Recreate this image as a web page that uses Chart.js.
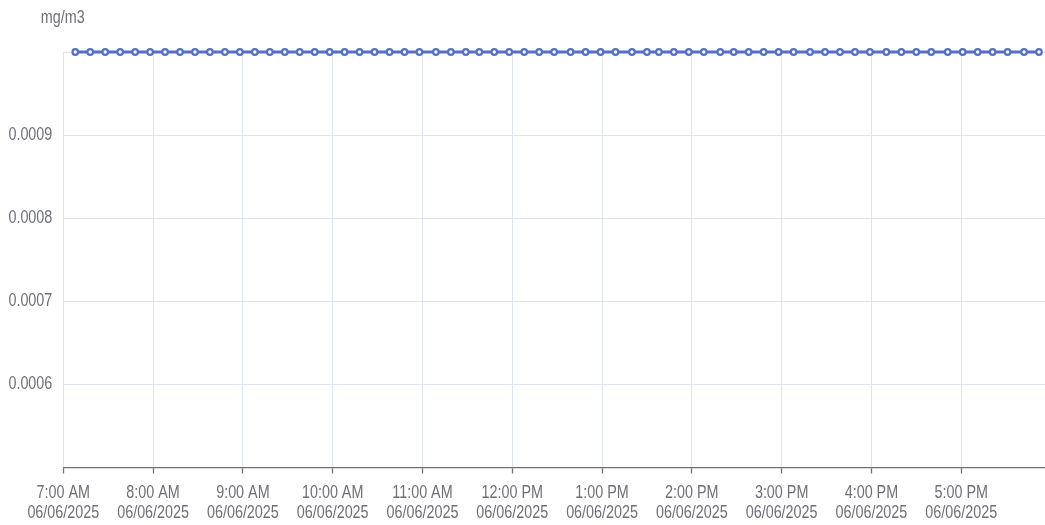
<!DOCTYPE html>
<html>
<head>
<meta charset="utf-8">
<script src="https://cdn.jsdelivr.net/npm/chart.js@4.4.1/dist/chart.umd.min.js"></script>
<style>
  html, body { margin: 0; padding: 0; background: #ffffff; overflow: hidden; }
  canvas { display: block; }
</style>
</head>
<body>
<canvas id="c" width="1045" height="525" style="width:1045px;height:525px"></canvas>
<script>
// ---- data ----
const unitLabel = 'mg/m3';
const dateLabel = '06/06/2025';
const times = [
  '07:08','07:18','07:28','07:38','07:48','07:58',
  '08:08','08:18','08:28','08:38','08:48','08:58',
  '09:08','09:18','09:28','09:38','09:48','09:58',
  '10:08','10:18','10:28','10:38','10:48','10:58',
  '11:09','11:19','11:29','11:38','11:48','11:58',
  '12:08','12:18','12:28','12:39','12:49','12:59',
  '13:09','13:20','13:30','13:38','13:48','13:58',
  '14:08','14:19','14:28','14:38','14:48','14:58',
  '15:08','15:19','15:29','15:39','15:49','15:59',
  '16:10','16:20','16:30','16:40','16:51',
  '17:01','17:11','17:21','17:31','17:42','17:52'
];
const values = [
  0.001,0.001,0.001,0.001,0.001,0.001,
  0.001,0.001,0.001,0.001,0.001,0.001,
  0.001,0.001,0.001,0.001,0.001,0.001,
  0.001,0.001,0.001,0.001,0.001,0.001,
  0.001,0.001,0.001,0.001,0.001,0.001,
  0.001,0.001,0.001,0.001,0.001,0.001,
  0.001,0.001,0.001,0.001,0.001,0.001,
  0.001,0.001,0.001,0.001,0.001,0.001,
  0.001,0.001,0.001,0.001,0.001,0.001,
  0.001,0.001,0.001,0.001,0.001,
  0.001,0.001,0.001,0.001,0.001,0.001
];
const xStart = '07:00';
const xEnd = '17:56';
const yMin = 0.0005;
const yMax = 0.001;
const yStep = 0.0001;

// ---- helpers ----
function toMin(s) { const p = s.split(':'); return (+p[0]) * 60 + (+p[1]); }
function fmtTime(m) {
  const h = Math.floor(m / 60), mm = Math.round(m % 60);
  const ap = h >= 12 ? 'PM' : 'AM';
  let h12 = h % 12; if (h12 === 0) h12 = 12;
  return h12 + ':' + (mm < 10 ? '0' : '') + mm + ' ' + ap;
}

const points = times.map((t, i) => ({ x: toMin(t), y: values[i] }));
const FONT = "'Liberation Sans', Arial, Helvetica, sans-serif";
const FSIZE = 17.5;
const SQUEEZE = 0.82;   // narrow (condensed) look of the reference type
const TXT = '#6e7079';

function narrowText(ctx, text, x, y, align) {
  ctx.save();
  ctx.translate(x, y);
  ctx.scale(SQUEEZE, 1);
  ctx.textAlign = align;
  ctx.textBaseline = 'middle';
  ctx.fillText(text, 0, 0);
  ctx.restore();
}

const labelPlugin = {
  id: 'narrowLabels',
  afterDraw(chart) {
    const ctx = chart.ctx;
    const xs = chart.scales.x, ys = chart.scales.y;
    ctx.save();
    ctx.font = FSIZE + 'px ' + FONT;
    ctx.fillStyle = TXT;
    narrowText(ctx, unitLabel, chart.chartArea.left - 0.6, 18, 'center');
    xs.ticks.forEach(t => {
      const px = xs.getPixelForValue(t.value);
      narrowText(ctx, fmtTime(t.value), px, xs.top + 25.5, 'center');
      narrowText(ctx, dateLabel, px, xs.top + 45.5, 'center');
    });
    ys.ticks.forEach(t => {
      if (Math.abs(t.value - yMin) < 1e-9 || Math.abs(t.value - yMax) < 1e-9) return;
      const py = ys.getPixelForValue(t.value);
      narrowText(ctx, t.value.toFixed(4), chart.chartArea.left - 11, py, 'right');
    });
    ctx.restore();
  }
};

new Chart(document.getElementById('c'), {
  type: 'line',
  data: {
    datasets: [{
      data: points,
      borderColor: '#5470c6',
      backgroundColor: '#ffffff',
      borderWidth: 2.8,
      pointRadius: 2.8,
      pointBorderWidth: 2.2,
      pointBackgroundColor: '#ffffff',
      pointBorderColor: '#5470c6',
      tension: 0,
      clip: false
    }]
  },
  options: {
    responsive: false,
    animation: false,
    devicePixelRatio: 1,
    layout: { autoPadding: false, padding: { top: 52, left: 0, right: 0, bottom: 0 } },
    plugins: { legend: { display: false }, tooltip: { enabled: false }, title: { display: false } },
    scales: {
      x: {
        type: 'linear',
        min: toMin(xStart),
        max: toMin(xEnd),
        afterFit(scale) { scale.height = 57.5; scale.paddingLeft = 0; scale.paddingRight = 0; },
        border: { display: true, color: '#6e7079', width: 1.3 },
        grid: { color: '#e0e6f1', lineWidth: 1, drawTicks: true, tickLength: 6, tickColor: '#6e7079', tickWidth: 1.3 },
        ticks: {
          display: false,
          stepSize: 60,
          includeBounds: false,
          autoSkip: false,
          maxRotation: 0
        }
      },
      y: {
        min: yMin,
        max: yMax,
        afterFit(scale) { scale.width = 63.3; scale.paddingTop = 0; scale.paddingBottom = 0; },
        border: { display: false },
        grid: { color: '#e0e6f1', lineWidth: 1, drawTicks: false },
        ticks: {
          display: false,
          stepSize: yStep
        }
      }
    }
  },
  plugins: [labelPlugin]
});
</script>
</body>
</html>
